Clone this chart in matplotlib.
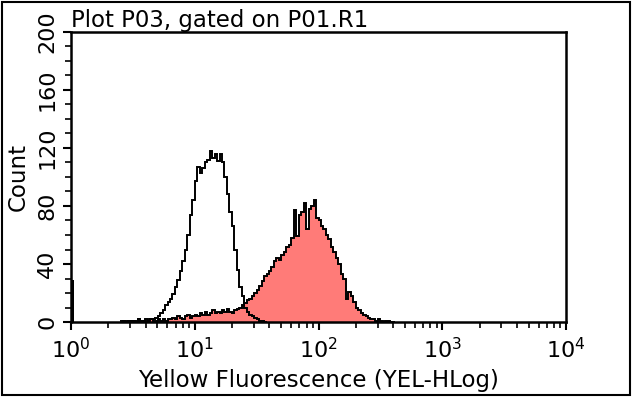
import numpy as np
import matplotlib
matplotlib.use("Agg")
import matplotlib.pyplot as plt
from matplotlib.patches import Rectangle
from matplotlib.ticker import MultipleLocator, LogLocator, NullFormatter

# histogram bins are in log10 units, fixed width
bin_step = 0.02

# control (unfilled) histogram
ctrl_start = 0.40
ctrl_counts = [1, 0, 1, 0, 1, 1, 0, 2, 1,
               1, 2, 1, 2, 2, 3, 4, 6, 8, 12,
               14, 16, 19, 24, 29, 35, 42, 50, 60, 74,
               84, 97, 107, 103, 106, 110, 112, 118, 113, 116,
               111, 116, 110, 100, 88, 76, 66, 50, 36, 24,
               18, 10, 7, 5, 4, 3, 2, 1, 1, 0]

# stained sample (filled) histogram
samp_start = 0.40
samp_counts = [0, 1, 0, 1, 1, 0, 1, 2, 1, 0, 1, 1, 2, 1, 1, 2, 1, 2, 1, 2,
               2, 3, 2, 4, 3, 2, 4, 5, 3, 4,
               5, 4, 6, 5, 7, 5, 6, 8, 6, 7,
               6, 8, 7, 9, 7, 6, 8, 9, 10, 12,
               13, 15, 16, 18, 20, 22, 25, 28, 32, 33,
               35, 38, 42, 44, 43, 46, 48, 52, 53, 58,
               77, 59, 74, 76, 82, 64, 78, 80, 84, 72,
               70, 66, 64, 60, 57, 52, 48, 44, 40, 33,
               30, 16, 21, 18, 14, 10, 8, 6, 5, 4,
               3, 2, 2, 1, 2, 1, 0, 1, 1, 0,
               0]

# events piled up at the lower edge of the scale
edge_start = 0.0
edge_step = 0.012
edge_counts = [60, 29]

title = "Plot P03, gated on P01.R1"
xlabel = "Yellow Fluorescence (YEL-HLog)"
ylabel = "Count"


def edges(start, n, step):
    return 10 ** (start + step * np.arange(n + 1))


fig = plt.figure(figsize=(6.4, 3.98), dpi=100)
ax = fig.add_axes([71 / 640, 1 - 322 / 398, (566 - 71) / 640, (322 - 32) / 398])

se = edges(samp_start, len(samp_counts), bin_step)
ce = edges(ctrl_start, len(ctrl_counts), bin_step)
ee = edges(edge_start, len(edge_counts), edge_step)

ax.stairs(samp_counts, se, fill=True, color="#ff7b78", lw=0)
ax.stairs(samp_counts, se, color="black", lw=1.4)
ax.stairs(ctrl_counts, ce, color="black", lw=1.4)
ax.stairs(edge_counts, ee, fill=True, color="black", lw=1.5)

ax.set_xscale("log")
ax.set_xlim(1, 1e4)
ax.set_ylim(0, 200)

ax.yaxis.set_major_locator(MultipleLocator(40))
ax.yaxis.set_minor_locator(MultipleLocator(10))
ax.xaxis.set_major_locator(LogLocator(base=10))
ax.xaxis.set_minor_locator(LogLocator(base=10, subs=np.arange(2, 10)))
ax.xaxis.set_minor_formatter(NullFormatter())

for s in ax.spines.values():
    s.set_linewidth(1.8)

ax.tick_params(which="major", length=6, width=1.5, labelsize=16)
ax.tick_params(axis="x", pad=5)
ax.tick_params(axis="y", pad=4)
ax.tick_params(which="minor", length=4, width=1.2)
ax.tick_params(axis="y", labelrotation=90)
for lab in ax.get_yticklabels():
    lab.set_va("center")

ax.set_title(title, loc="left", fontsize=16.5, pad=2)
ax.set_xlabel(xlabel, fontsize=16.5, labelpad=5)
ax.set_ylabel(ylabel, fontsize=16.5, labelpad=5)

fig.patches.append(Rectangle((2 / 640, 3 / 398), 628 / 640, 393 / 398,
                             transform=fig.transFigure, fill=False,
                             ec="black", lw=1.5))

fig.savefig("out.png", dpi=100)
